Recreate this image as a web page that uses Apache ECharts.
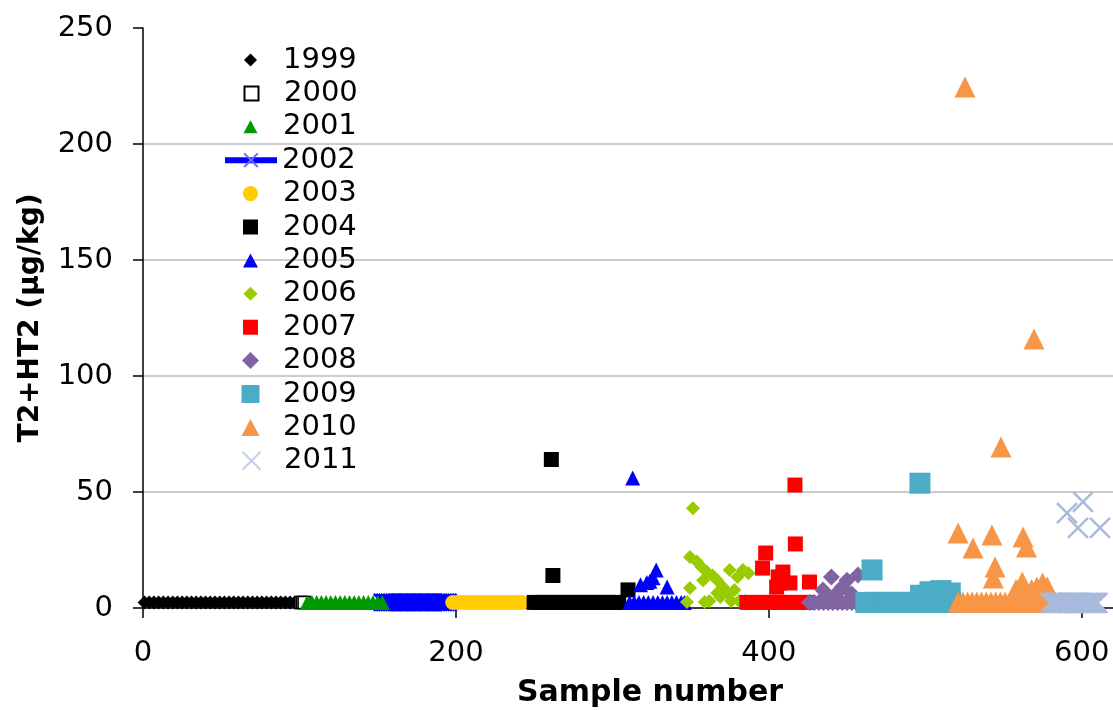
<!DOCTYPE html>
<html><head><meta charset="utf-8">
<script src="https://cdn.jsdelivr.net/npm/echarts@6/dist/echarts.min.js"></script>
<style>html,body{margin:0;padding:0;background:#fff}#c{width:1113px;height:710px}</style>
</head><body><div id="c"></div><script>
const years = ['1999','2000','2001','2002','2003','2004','2005','2006','2007','2008','2009','2010','2011'];
const xTickValues = [0, 200, 400, 600];
const yTickValues = [0, 50, 100, 150, 200, 250];

const x1999 = [1,4,7,10,13,16,19,22,25,28,31,34,37,40,43,46,49,52,55,58,61,64,67,70,73,76,79,82,85,88,91,94,97];
const y1999 = [2.4,2.4,2.4,2.4,2.4,2.4,2.4,2.4,2.4,2.4,2.4,2.4,2.4,2.4,2.4,2.4,2.4,2.4,2.4,2.4,2.4,2.4,2.4,2.4,2.4,2.4,2.4,2.4,2.4,2.4,2.4,2.4,2.4];
const x2000 = [101,102,103];
const y2000 = [2.4,2.4,2.4];
const x2001 = [105,108,111,114,117,120,123,126,129,132,135,138,141,144,147,150,153];
const y2001 = [2.4,2.4,2.4,2.4,2.4,2.4,2.4,2.4,2.4,2.4,2.4,2.4,2.4,2.4,2.4,2.4,2.4];
const x2002 = [153,154.5,156,157.5,159,160.5,162,163.5,165,166.5,168,169.5,171,172.5,174,175.5,177,178.5,180,181.5,183,184.5,186,187.5,189,190.5,192,193.5,195];
const y2002 = [2.4,2.4,2.4,2.4,2.4,2.4,2.4,2.4,2.4,2.4,2.4,2.4,2.4,2.4,2.4,2.4,2.4,2.4,2.4,2.4,2.4,2.4,2.4,2.4,2.4,2.4,2.4,2.4,2.4];
const x2003 = [198,201,204,207,210,213,216,219,222,225,228,231,234,237,240,242];
const y2003 = [2.4,2.4,2.4,2.4,2.4,2.4,2.4,2.4,2.4,2.4,2.4,2.4,2.4,2.4,2.4,2.4];
const x2004 = [250,253,256,259,262,265,268,271,274,277,280,283,286,289,292,295,298,301,304,261,262,310];
const y2004 = [2.4,2.4,2.4,2.4,2.4,2.4,2.4,2.4,2.4,2.4,2.4,2.4,2.4,2.4,2.4,2.4,2.4,2.4,2.4,64,14,7.8];
const x2005 = [311,314,317,320,323,326,329,332,335,338,341,344,346,313,328,326,324,322,318,335];
const y2005 = [2.4,2.4,2.4,2.4,2.4,2.4,2.4,2.4,2.4,2.4,2.4,2.4,2.4,56,16.4,13,11.5,11,10,9];
const x2006 = [351.5,349.6,354,357,360.5,364,367,375,383.5,387,380,378,370.7,369,359,347.7,349.6,367,373,358,362,376,381,385];
const y2006 = [43,22,20,17.7,15.5,14,12,16.4,16.4,15,13.4,7.8,9,4.7,2.6,2.6,8.6,6.5,6.5,12,3,3,3,3];
const x2007 = [386,389,392,395,398,401,404,407,410,413,416,419,422,425,416.7,417,398,396,409,406,405,407,413.5,426];
const y2007 = [2.4,2.4,2.4,2.4,2.4,2.4,2.4,2.4,2.4,2.4,2.4,2.4,2.4,2.4,53,27.6,23.7,17.2,15.5,13.4,9,10.8,10.8,11.2];
const x2008 = [426,429,432,435,438,441,444,447,450,453,456,440,450,447,457,434.6,443.6,437,453];
const y2008 = [2.4,2.4,2.4,2.4,2.4,2.4,2.4,2.4,2.4,2.4,2.4,13.4,12,9,14.2,7.8,6.5,5,6];
const x2009 = [462,465,468,471,474,477,480,483,486,489,492,495,498,501,504,507,510,513,516,496.6,466,497,503,510,516];
const y2009 = [2.4,2.4,2.4,2.4,2.4,2.4,2.4,2.4,2.4,2.4,2.4,2.4,2.4,2.4,2.4,2.4,2.4,2.4,2.4,53.8,16.4,5.5,7,7.5,6.5];
const x2010 = [521,524,527,530,533,536,539,542,545,548,551,554,557,560,563,566,569,572,575,578,525.4,569.5,548.4,521,530.5,542.6,562.5,564.7,544.6,543.5,562,575,571.4,558,563,568,574,578];
const y2010 = [2.6,2.6,2.6,2.6,2.6,2.6,2.6,2.6,2.6,2.6,2.6,2.6,2.6,2.6,2.6,2.6,2.6,2.6,2.6,2.6,224.6,116,69.4,32.3,25.9,31.5,30.6,26.3,17.7,12.9,11.2,10.8,9,8,7.5,8,8.5,9];
const x2011 = [580,581.5,583,584.5,586,587.5,589,590.5,592,593.5,595,596.5,598,599.5,601,602.5,604,605.5,607,608.5,610,590.6,600.8,597.6,611.7];
const y2011 = [2.2,2.2,2.2,2.2,2.2,2.2,2.2,2.2,2.2,2.2,2.2,2.2,2.2,2.2,2.2,2.2,2.2,2.2,2.2,2.2,2.2,40.9,45.7,34.5,34.5];

const FONT = 'DejaVu Sans';
const pts = (xs, ys) => xs.map((x, i) => [x, ys[i]]);
const XPATH = 'path://M0,0L10,10M10,0L0,10';

function sc(name, xs, ys, symbol, size, style, extra) {
  return Object.assign({
    name: name, type: 'scatter', data: pts(xs, ys), symbol: symbol, symbolSize: size,
    itemStyle: Object.assign({opacity: 1}, style), clip: false, silent: true
  }, extra || {});
}

const series = [
  sc('1999', x1999, y1999, 'diamond', 14, {color: '#000000'}),
  sc('2000', x2000, y2000, 'rect', 12, {color: '#ffffff', borderColor: '#000000', borderWidth: 1.5}),
  sc('2001', x2001, y2001, 'triangle', 15, {color: '#009900'}),
  {
    name: '2002', type: 'line', data: pts(x2002, y2002), symbol: XPATH, symbolSize: 17,
    showSymbol: true, z: 1, clip: false, silent: true,
    lineStyle: {color: '#0000ff', width: 6},
    itemStyle: {color: 'rgba(0,0,0,0)', borderColor: '#0000ff', borderWidth: 2.5, opacity: 1}
  },
  sc('2003', x2003, y2003, 'circle', 15, {color: '#ffcc00'}),
  sc('2004', x2004, y2004, 'rect', 15, {color: '#000000'}),
  sc('2005', x2005, y2005, 'triangle', 15, {color: '#0000ff'}),
  sc('2006', x2006, y2006, 'diamond', 14, {color: '#99cc00'}),
  sc('2007', x2007, y2007, 'rect', 15, {color: '#ff0000'}),
  sc('2008', x2008, y2008, 'diamond', 17, {color: '#8064a2'}),
  sc('2009', x2009, y2009, 'rect', 21, {color: '#4bacc6'}),
  sc('2010', x2010, y2010, 'triangle', 21, {color: '#f79646'}),
  sc('2011', x2011, y2011, XPATH, 20, {color: 'rgba(0,0,0,0)', borderColor: '#a8badb', borderWidth: 2.5})
];

// legend layout (one legend per entry so icon sizes can differ)
const legendIconW = [13, 14, 14, 52, 15, 15, 15, 14, 15, 17, 18, 18, 18];
const legendIconH = [13, 14, 13, 17, 15, 15, 14, 14, 15, 17, 18, 17, 18];
const legendCenterX = 250.5, legendTextX = 283, legendFirstY = 60, legendPitch = 33.4, legendTextH = 29;
const legends = years.map((y, i) => {
  const w = legendIconW[i];
  const left = i === 3 ? 222 : legendCenterX - w / 2;
  const pad = i === 3 ? 0 : Math.max(0, legendTextX - (left + w + 5));
  return {
    orient: 'vertical', padding: 0, selectedMode: false,
    left: left, top: legendFirstY + i * legendPitch - legendTextH / 2,
    itemWidth: w, itemHeight: legendIconH[i], itemGap: 0,
    textStyle: {fontSize: 29, fontFamily: FONT, color: '#000', lineHeight: legendTextH,
      padding: [0, 0, 0, pad]},
    data: [y]
  };
});
legends[3].lineStyle = {width: 6, color: '#0000ff'};
legends[3].data = [{name: '2002', itemStyle: {borderColor: '#6a6aff', borderWidth: 2}}];
legends[12].data = [{name: '2011', itemStyle: {borderColor: '#c3cfe6', borderWidth: 2}}];

const chart = echarts.init(document.getElementById('c'), null, {renderer: 'canvas'});
chart.setOption({
  animation: false,
  backgroundColor: '#ffffff',
  grid: {left: 143, top: 28, right: 0, bottom: 102, containLabel: false, outerBoundsMode: 'none'},
  legend: legends,
  xAxis: {
    type: 'value', min: xTickValues[0], max: 620, interval: 200,
    axisLine: {show: true, lineStyle: {color: '#000', width: 1.5}},
    axisTick: {show: true, length: 10, lineStyle: {color: '#000', width: 1.5}},
    axisLabel: {fontSize: 29, fontFamily: FONT, color: '#000', margin: 31, showMaxLabel: false},
    splitLine: {show: false},
    name: 'Sample number', nameLocation: 'middle', nameGap: 70,
    nameTextStyle: {fontSize: 30, fontWeight: 'bold', fontFamily: FONT, color: '#000', padding: [0, 0, 0, 44]}
  },
  yAxis: {
    type: 'value', min: yTickValues[0], max: yTickValues[yTickValues.length - 1], interval: 50,
    axisLine: {show: true, lineStyle: {color: '#000', width: 1.5}},
    axisTick: {show: true, length: 10, lineStyle: {color: '#000', width: 1.5}},
    axisLabel: {fontSize: 29, fontFamily: FONT, color: '#000', margin: 30},
    splitLine: {show: true, showMinLine: false, showMaxLine: false, lineStyle: {color: '#cccccc', width: 2}},
    name: 'T2+HT2 (µg/kg)', nameLocation: 'middle', nameGap: 98, nameRotate: 90,
    nameTextStyle: {fontSize: 28, fontWeight: 'bold', fontFamily: FONT, color: '#000'}
  },
  series: series
});
</script></body></html>
